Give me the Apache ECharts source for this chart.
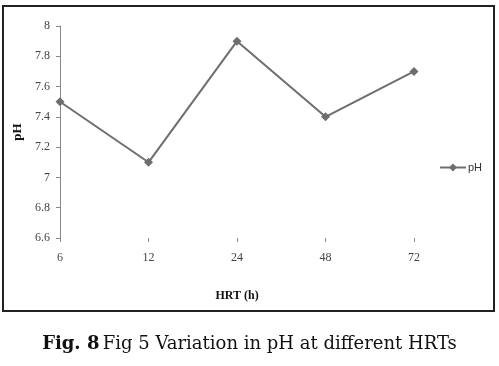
<!DOCTYPE html>
<html><head><meta charset="utf-8">
<script src="https://cdn.jsdelivr.net/npm/echarts@6/dist/echarts.min.js"></script>
<style>html,body{margin:0;padding:0;background:#fff}#c{width:499px;height:366px}</style>
</head><body><div id="c"></div>
<script>
const categories = ['6', '12', '24', '48', '72'];
const phValues = [7.5, 7.1, 7.9, 7.4, 7.7];
const yTicks = [6.6, 6.8, 7, 7.2, 7.4, 7.6, 7.8, 8];

const chart = echarts.init(document.getElementById('c'));
chart.setOption({
  animation: false,
  backgroundColor: '#fff',
  graphic: [
    { type: 'rect', shape: { x: 3, y: 6, width: 491, height: 305 }, style: { fill: 'none', stroke: '#222', lineWidth: 2 } },
    { type: 'text', left: 'center', top: 335, style: { rich: { b: { fontFamily: 'DejaVu Serif', fontWeight: 'bold', fontSize: 18, fill: '#111' }, n: { fontFamily: 'DejaVu Serif', fontSize: 18, fill: '#111' } }, text: '{b|Fig. 8} {n|Fig 5 Variation in pH at different HRTs}' } }
  ],
  grid: { left: 60, right: 85, top: 26, bottom: 128 },
  legend: {
    data: ['pH'], left: 434, top: 157, itemWidth: 26, itemHeight: 10, itemGap: 2,
    textStyle: { fontFamily: 'Liberation Sans', fontSize: 11, color: '#333', padding: [0, 0, 0, -3] }
  },
  xAxis: {
    type: 'category', data: categories, boundaryGap: false,
    name: 'HRT (h)', nameLocation: 'middle', nameGap: 52,
    nameTextStyle: { fontFamily: 'Liberation Serif', fontWeight: 'bold', fontSize: 12, color: '#111' },
    axisLine: { show: false },
    axisTick: { show: true, alignWithLabel: true, length: 4, lineStyle: { color: '#888' } },
    axisLabel: { fontFamily: 'Liberation Serif', fontSize: 12, color: '#444', margin: 14 }
  },
  yAxis: {
    type: 'value', min: 6.6, max: 8, interval: 0.2,
    name: 'pH', nameLocation: 'middle', nameGap: 33, nameRotate: 90,
    nameTextStyle: { fontFamily: 'Liberation Serif', fontWeight: 'bold', fontSize: 13, color: '#111' },
    axisLine: { show: true, lineStyle: { color: '#888' } },
    axisTick: { show: true, length: 4, lineStyle: { color: '#888' } },
    splitLine: { show: false },
    axisLabel: { fontFamily: 'Liberation Serif', fontSize: 12, color: '#444', margin: 10,
      formatter: v => { const t = yTicks.find(x => Math.abs(x - v) < 1e-6); return t === undefined ? '' : String(t); } }
  },
  series: [{
    name: 'pH', type: 'line', data: phValues,
    symbol: 'diamond', symbolSize: 9,
    lineStyle: { color: '#6e6e6e', width: 2 },
    itemStyle: { color: '#6e6e6e' }
  }]
});
</script></body></html>
